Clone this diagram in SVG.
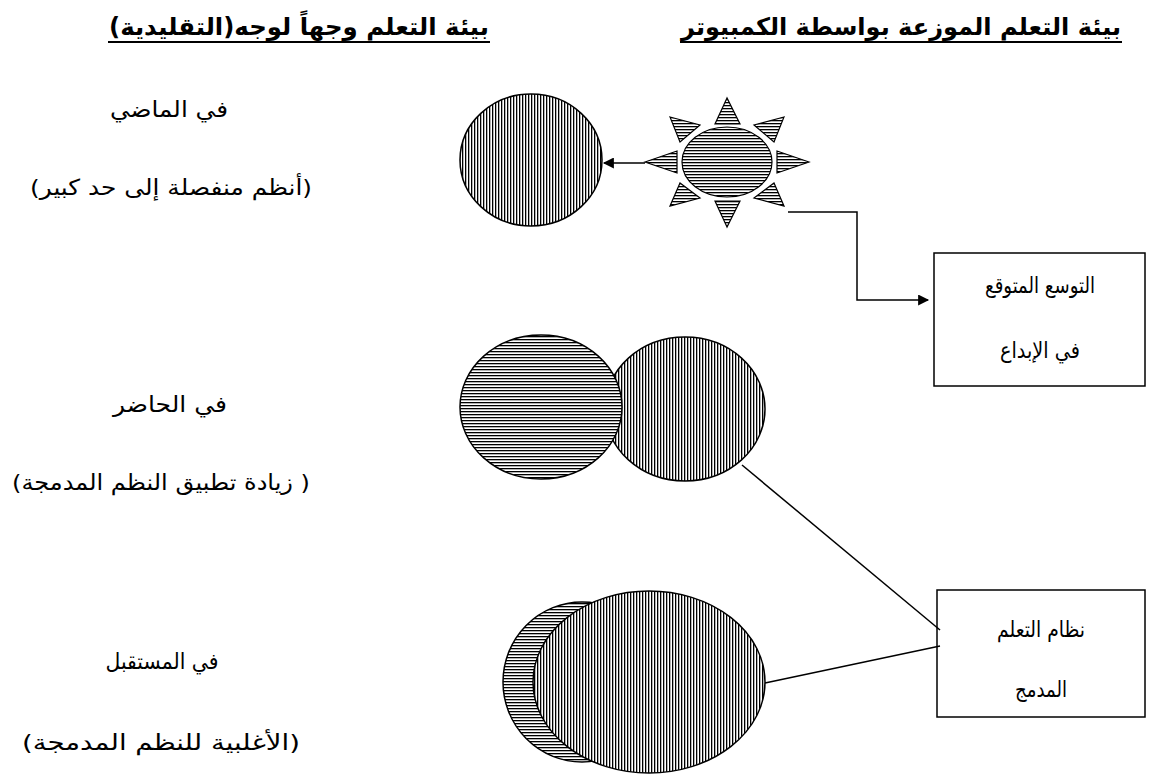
<svg xmlns="http://www.w3.org/2000/svg" width="1175" height="778" viewBox="0 0 1175 778">
<style>
.t{font-family:"DejaVu Sans",sans-serif;font-size:22px;fill:#000;text-anchor:middle;direction:rtl}
.h{font-family:"DejaVu Sans",sans-serif;font-size:24px;font-weight:bold;fill:#000;text-anchor:middle;direction:rtl}
.ln{stroke:#000;stroke-width:1.5;fill:none}
.sh{stroke:#000;stroke-width:2}
.box{fill:#fff;stroke:#000;stroke-width:1.5}
</style>
<defs>
<pattern id="vh" patternUnits="userSpaceOnUse" width="3" height="3"><rect width="3" height="3" fill="#fff"/><rect width="1.3" height="3" fill="#000"/></pattern>
<pattern id="hh" patternUnits="userSpaceOnUse" width="3" height="3"><rect width="3" height="3" fill="#fff"/><rect width="3" height="1.3" fill="#000"/></pattern>
<marker id="ar2" viewBox="0 0 10 10" refX="9" refY="5" markerWidth="15" markerHeight="11" markerUnits="userSpaceOnUse" orient="auto"><path d="M0,0 L10,5 L0,10 z" fill="#000"/></marker>
</defs>

<g id="headers">
<text class="h" x="299" y="35" textLength="380" lengthAdjust="spacingAndGlyphs">بيئة التعلم وجهاً لوجه(التقليدية)</text>
<line class="sh" x1="108" y1="42" x2="490" y2="42"/>
<text class="h" x="901" y="35" textLength="440" lengthAdjust="spacingAndGlyphs">بيئة التعلم الموزعة بواسطة الكمبيوتر</text>
<line class="sh" x1="680" y1="42" x2="1122" y2="42"/>
</g>

<g id="labels">
<text class="t" x="169" y="117" textLength="118" lengthAdjust="spacingAndGlyphs">في الماضي</text>
<text class="t" x="171" y="195" textLength="282" lengthAdjust="spacingAndGlyphs">(أنظم منفصلة إلى حد كبير)</text>
<text class="t" x="170" y="412" textLength="114" lengthAdjust="spacingAndGlyphs">في الحاضر</text>
<text class="t" x="161" y="490" textLength="298" lengthAdjust="spacingAndGlyphs">( زيادة تطبيق النظم المدمجة)</text>
<text class="t" x="162" y="669" textLength="113" lengthAdjust="spacingAndGlyphs">في المستقبل</text>
<text class="t" x="161" y="750" textLength="278" lengthAdjust="spacingAndGlyphs">(الأغلبية للنظم المدمجة)</text>
</g>

<g id="past-circle">
<ellipse cx="531" cy="160" rx="71" ry="66" fill="url(#vh)" stroke="#000" stroke-width="1.5"/>
</g>

<g id="sun" fill="url(#hh)" stroke="#000" stroke-width="1.2">
<ellipse cx="727" cy="162" rx="45" ry="35"/>
<polygon points="727,98 715,124 740,124"/>
<polygon points="727,227 715,201 740,201"/>
<polygon points="645,162 677,151 677,173"/>
<polygon points="809,162 777,151 777,173"/>
<polygon points="670,117 700,125 680,142"/>
<polygon points="784,117 754,125 774,142"/>
<polygon points="670,206 680,183 700,198"/>
<polygon points="784,206 774,183 754,198"/>
</g>

<g id="present-circles">
<ellipse cx="685" cy="409" rx="80" ry="72" fill="url(#vh)" stroke="#000" stroke-width="1.5"/>
<ellipse cx="541" cy="407" rx="81" ry="72" fill="url(#hh)" stroke="#000" stroke-width="1.5"/>
</g>

<g id="future-circles">
<ellipse cx="582" cy="682" rx="79" ry="80" fill="url(#hh)" stroke="#000" stroke-width="1.5"/>
<ellipse cx="649" cy="682" rx="116" ry="91" fill="url(#vh)" stroke="#000" stroke-width="1.5"/>
</g>

<g id="box-creativity">
<rect class="box" x="934" y="253" width="211" height="133"/>
<text class="t" x="1040" y="293" textLength="110" lengthAdjust="spacingAndGlyphs">التوسع المتوقع</text>
<text class="t" x="1040" y="358" textLength="80" lengthAdjust="spacingAndGlyphs">في الإبداع</text>
</g>

<g id="box-blended">
<rect class="box" x="937" y="590" width="208" height="127"/>
<text class="t" x="1041" y="637" textLength="88" lengthAdjust="spacingAndGlyphs">نظام التعلم</text>
<text class="t" x="1041" y="697" textLength="52" lengthAdjust="spacingAndGlyphs">المدمج</text>
</g>

<g id="connectors">
<line class="ln" x1="645" y1="163" x2="604" y2="163" marker-end="url(#ar2)"/>
<polyline class="ln" points="788,212 857,212 857,300 928,300" marker-end="url(#ar2)"/>
<line class="ln" x1="742" y1="465" x2="940" y2="630"/>
<line class="ln" x1="765" y1="683" x2="940" y2="646"/>
</g>
</svg>
